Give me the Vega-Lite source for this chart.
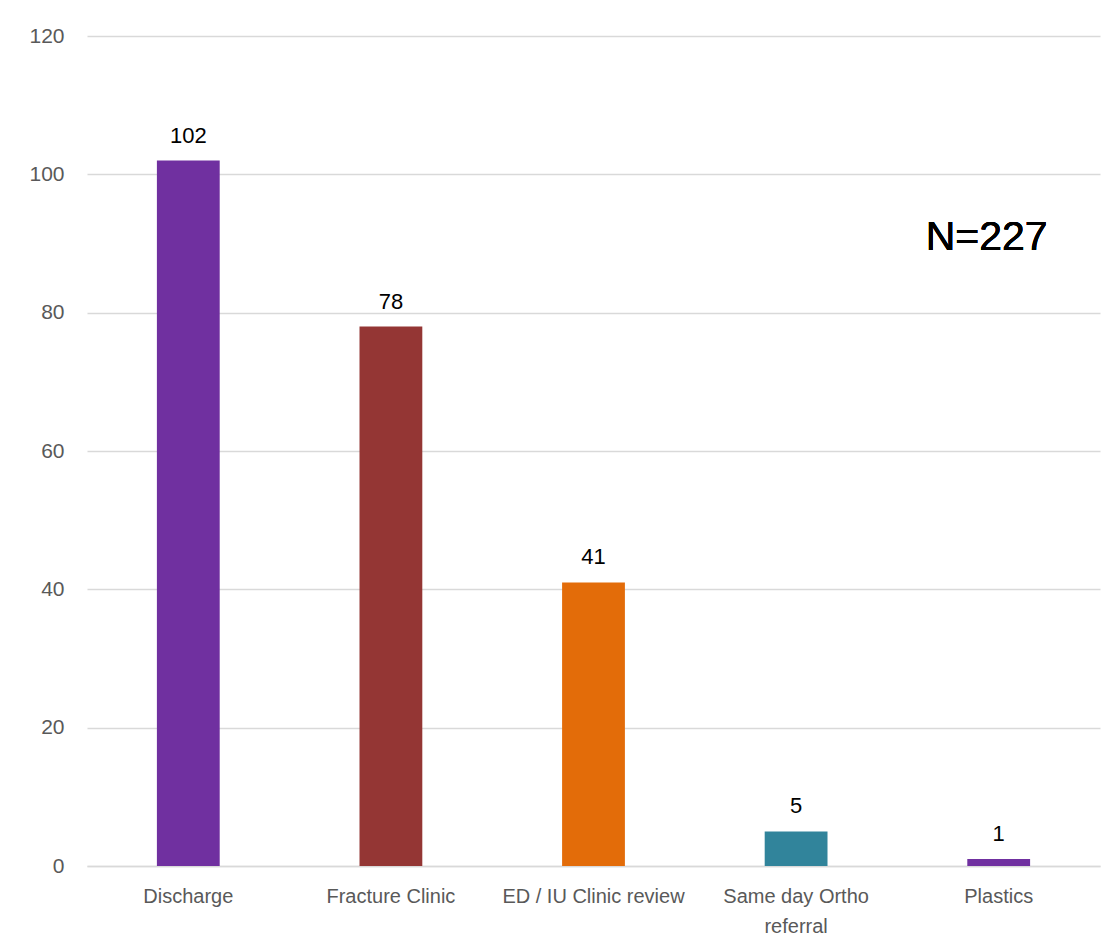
{
  "$schema": "https://vega.github.io/schema/vega-lite/v6.json",
  "autosize": {"type": "none"},
  "width": 1013,
  "height": 830,
  "padding": {"left": 87, "top": 36, "right": 13, "bottom": 86},
  "background": "white",
  "config": {
    "view": {"stroke": null},
    "font": "Liberation Sans"
  },
  "data": {
    "values": [
      {"category": "Discharge", "count": 102},
      {"category": "Fracture Clinic", "count": 78},
      {"category": "ED / IU Clinic review", "count": 41},
      {"category": "Same day Ortho referral", "count": 5},
      {"category": "Plastics", "count": 1}
    ]
  },
  "encoding": {
    "x": {
      "field": "category",
      "type": "nominal",
      "sort": null,
      "scale": {"paddingInner": 0.69, "paddingOuter": 0.345},
      "axis": {
        "title": null,
        "labelAngle": 0,
        "ticks": false,
        "domainColor": "#D9D9D9",
        "domainWidth": 1.5,
        "labelColor": "#595959",
        "labelFontSize": 20,
        "labelPadding": 20,
        "labelLimit": 0,
        "labelLineHeight": 30,
        "labelExpr": "datum.label == 'Same day Ortho referral' ? ['Same day Ortho', 'referral'] : datum.label"
      }
    },
    "y": {
      "field": "count",
      "type": "quantitative",
      "scale": {"domain": [0, 120], "nice": false},
      "axis": {
        "title": null,
        "values": [0, 20, 40, 60, 80, 100, 120],
        "ticks": false,
        "domain": false,
        "gridColor": "#D9D9D9",
        "gridWidth": 1.5,
        "labelColor": "#595959",
        "labelFontSize": 21,
        "labelPadding": 23
      }
    }
  },
  "layer": [
    {
      "mark": {"type": "bar"},
      "encoding": {
        "color": {
          "field": "category",
          "type": "nominal",
          "scale": {
            "domain": ["Discharge", "Fracture Clinic", "ED / IU Clinic review", "Same day Ortho referral", "Plastics"],
            "range": ["#7030A0", "#943634", "#E36C09", "#31849B", "#7030A0"]
          },
          "legend": null
        }
      }
    },
    {
      "mark": {"type": "text", "baseline": "alphabetic", "dy": -18, "fontSize": 22, "color": "#000000"},
      "encoding": {
        "text": {"field": "count", "type": "quantitative"}
      }
    },
    {
      "mark": {"type": "text", "text": "N=227", "baseline": "alphabetic", "align": "center", "dx": -12, "fontSize": 41, "color": "#000000"},
      "encoding": {
        "x": {"datum": "Plastics"},
        "y": {"datum": 89}
      }
    }
  ]
}
